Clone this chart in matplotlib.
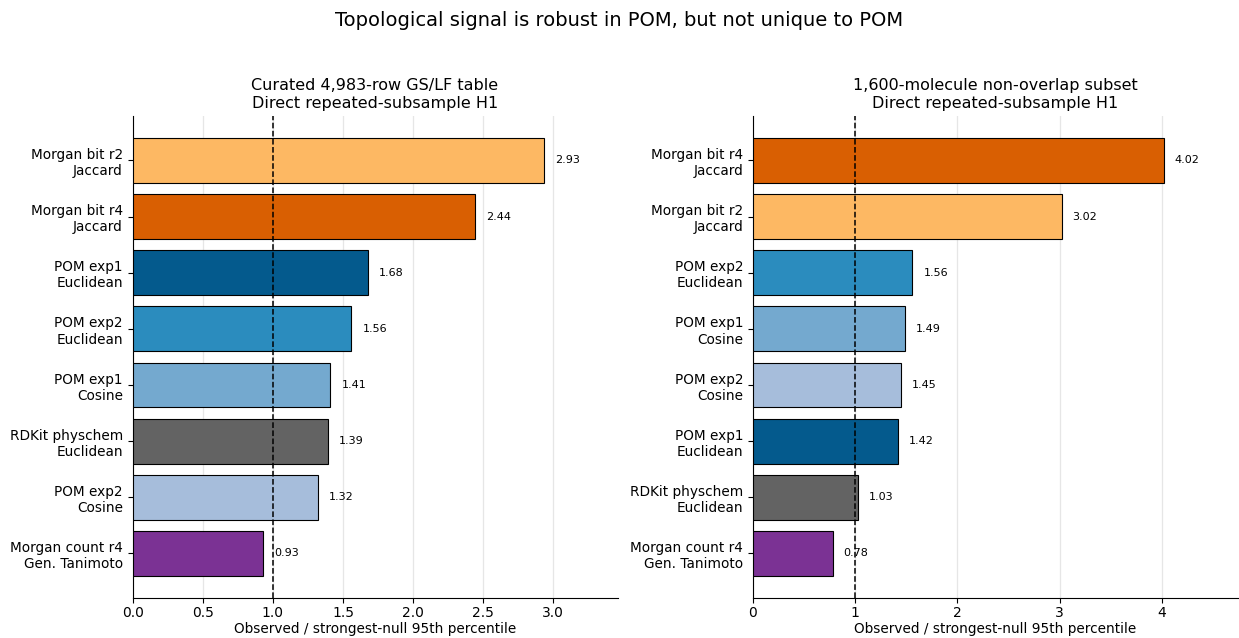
import matplotlib
matplotlib.use("Agg")
import matplotlib.pyplot as plt

# left panel: curated table
left_labels = ["Morgan bit r2\nJaccard", "Morgan bit r4\nJaccard", "POM exp1\nEuclidean",
               "POM exp2\nEuclidean", "POM exp1\nCosine", "RDKit physchem\nEuclidean",
               "POM exp2\nCosine", "Morgan count r4\nGen. Tanimoto"]
left_values = [2.93, 2.44, 1.68, 1.56, 1.41, 1.39, 1.32, 0.93]

# right panel: non-overlap subset
right_labels = ["Morgan bit r4\nJaccard", "Morgan bit r2\nJaccard", "POM exp2\nEuclidean",
                "POM exp1\nCosine", "POM exp2\nCosine", "POM exp1\nEuclidean",
                "RDKit physchem\nEuclidean", "Morgan count r4\nGen. Tanimoto"]
right_values = [4.02, 3.02, 1.56, 1.49, 1.45, 1.42, 1.03, 0.78]

colors = {
    "Morgan bit r2\nJaccard": "#fdb863",
    "Morgan bit r4\nJaccard": "#d95f02",
    "POM exp1\nEuclidean": "#045a8d",
    "POM exp2\nEuclidean": "#2b8cbe",
    "POM exp1\nCosine": "#74a9cf",
    "POM exp2\nCosine": "#a6bddb",
    "RDKit physchem\nEuclidean": "#636363",
    "Morgan count r4\nGen. Tanimoto": "#7b3294",
}

fig, axes = plt.subplots(1, 2, figsize=(12.39, 6.38), dpi=100)
fig.subplots_adjust(left=0.107, right=0.999, top=0.818, bottom=0.063, wspace=0.279)
fig.suptitle("Topological signal is robust in POM, but not unique to POM", fontsize=14, y=0.983)

panels = [
    (axes[0], left_labels, left_values, "Curated 4,983-row GS/LF table\nDirect repeated-subsample H1"),
    (axes[1], right_labels, right_values, "1,600-molecule non-overlap subset\nDirect repeated-subsample H1"),
]

for ax, labels, values, title in panels:
    ypos = list(range(len(labels)))
    ax.barh(ypos, values, height=0.8, color=[colors[l] for l in labels],
            edgecolor="black", linewidth=0.8, zorder=3)
    ax.set_yticks(ypos)
    ax.set_yticklabels(labels, fontsize=9.8)
    ax.invert_yaxis()
    ax.axvline(1.0, color="black", linestyle="--", linewidth=1.1, zorder=4)
    for y, v in zip(ypos, values):
        ax.annotate(f"{v:.2f}", (v, y), xytext=(8, 0), textcoords="offset points",
                    va="center", ha="left", fontsize=8, zorder=5)
    ax.set_xlim(0, max(values) * 1.18)
    ax.grid(axis="x", color="#e6e6e6", linewidth=0.9, zorder=0)
    ax.set_axisbelow(True)
    for s in ["top", "right"]:
        ax.spines[s].set_visible(False)
    ax.set_title(title, fontsize=11.5)
    ax.set_xlabel("Observed / strongest-null 95th percentile", fontsize=9.8, labelpad=1)
    ax.tick_params(axis="x", labelsize=10, pad=2.5)

plt.savefig("out.png", dpi=100)
